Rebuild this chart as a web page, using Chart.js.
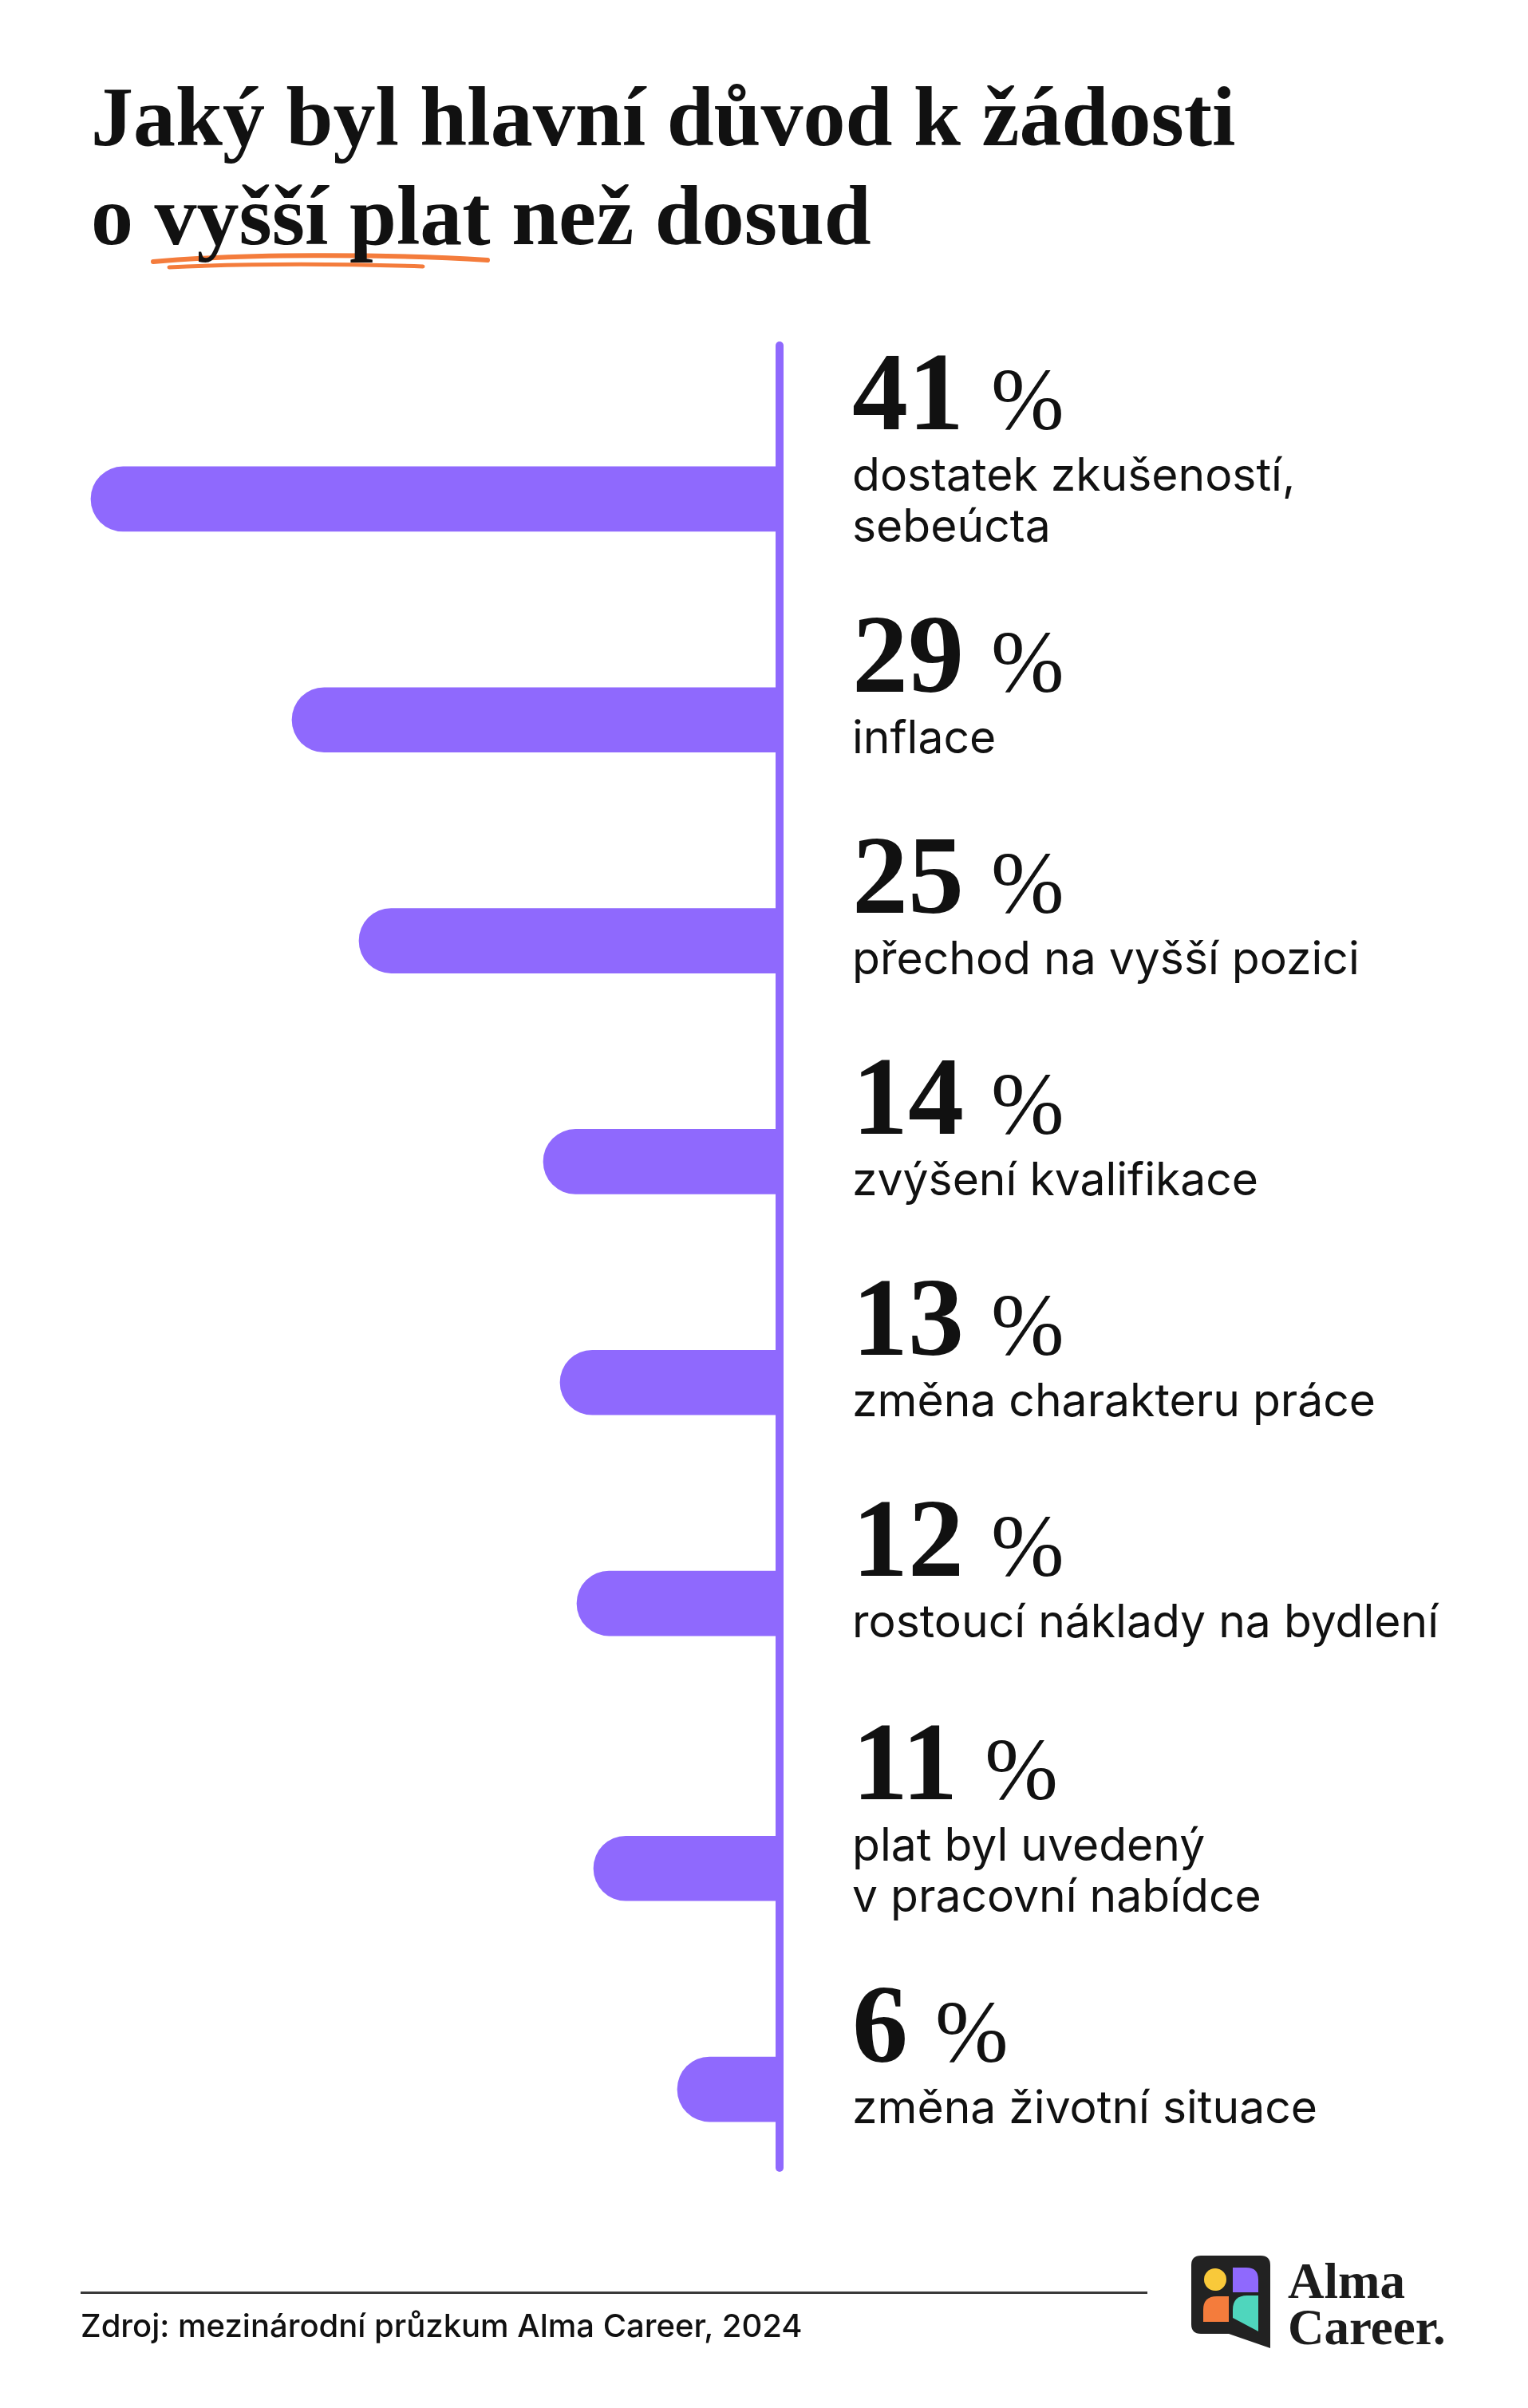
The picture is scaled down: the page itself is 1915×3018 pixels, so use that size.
<!DOCTYPE html>
<html lang="cs">
<head>
<meta charset="utf-8">
<title>Jaký byl hlavní důvod k žádosti o vyšší plat než dosud</title>
<script src="https://cdn.jsdelivr.net/npm/chart.js@4.4.1/dist/chart.umd.min.js"></script>
<style>
  html, body { margin: 0; padding: 0; background: #fff; }
  body { width: 1915px; height: 3018px; position: relative; overflow: hidden; }
  .title { position: absolute; left: 114px; font-family: "Liberation Serif", serif; font-weight: bold;
           font-size: 106px; line-height: 124px; color: #111; white-space: nowrap; z-index: 2; }
  #chartBox { position: absolute; left: 0; top: 0; width: 1915px; height: 3018px; }
  .rule { position: absolute; left: 101px; top: 2872px; width: 1337px; height: 3px; background: #3a3a3a; }
  .source { position: absolute; left: 101px; top: 2892px; font-family: Inter, sans-serif; font-weight: 500;
            font-size: 40px; line-height: 46px; color: #111; white-space: nowrap; }
  .brand { position: absolute; left: 1614px; top: 2830px; font-family: "Liberation Serif", serif; font-weight: bold;
           font-size: 63px; line-height: 58px; color: #1c1c1c; }
  svg { position: absolute; left: 0; top: 0; }
</style>
</head>
<body>
<svg width="1915" height="3018">
  <path d="M192,328 C300,318 480,318 611,326" stroke="#f47c3c" stroke-width="6" fill="none" stroke-linecap="round"/>
  <path d="M212,335 C320,330 440,331 530,334" stroke="#f47c3c" stroke-width="5" fill="none" stroke-linecap="round"/>
  <path d="M1505,2827 H1580 Q1592,2827 1592,2839 V2943 L1540,2925 H1505 Q1493,2925 1493,2913 V2839 Q1493,2827 1505,2827 Z" fill="#222"/>
  <circle cx="1523" cy="2857" r="14" fill="#f9c93a"/>
  <path d="M1545,2842 H1562 Q1577,2842 1577,2857 V2873 H1545 Z" fill="#8f69fd"/>
  <path d="M1508,2910 V2895 Q1508,2878 1525,2878 H1540 V2910 Z" fill="#f47c3c"/>
  <path d="M1545,2905 V2895 Q1545,2877 1563,2877 H1577 V2922 Z" fill="#4fd6bd"/>
</svg>
<div class="title" style="top:85px">Jaký byl hlavní důvod k žádosti</div>
<div class="title" style="top:209px">o vyšší plat než dosud</div>
<div id="chartBox"><canvas id="reasonChart"></canvas></div>
<div class="rule"></div>
<div class="source">Zdroj: mezinárodní průzkum Alma Career, 2024</div>
<div class="brand">Alma<br>Career.</div>

<script>
const reasons = [
    ["dostatek zkušeností,", "sebeúcta"],
    ["inflace"],
    ["přechod na vyšší pozici"],
    ["zvýšení kvalifikace"],
    ["změna charakteru práce"],
    ["rostoucí náklady na bydlení"],
    ["plat byl uvedený", "v pracovní nabídce"],
    ["změna životní situace"]
];
const shares = [41, 29, 25, 14, 13, 12, 11, 6];

const purple = '#8f69fd';

// řádky s dvouřádkovým popiskem potřebují trochu víc místa nad sebou
let slot = 0;
const rows = shares.map((v, i) => {
    if (i > 0) slot += 1 + 0.2 * (reasons[i].length - 1);
    return { x: v, y: slot };
});

// popisky vpravo od osy + svislá osa
const sideLabels = {
    id: 'sideLabels',
    afterDatasetsDraw(chart) {
        const ctx = chart.ctx;
        const area = chart.chartArea;
        const axisX = area.right + 2;

        ctx.save();
        ctx.strokeStyle = purple;
        ctx.lineWidth = 10;
        ctx.lineCap = 'round';
        ctx.beginPath();
        ctx.moveTo(axisX, area.top - 54);
        ctx.lineTo(axisX, area.bottom - 40);
        ctx.stroke();

        const x = area.right + 93;
        chart.getDatasetMeta(0).data.forEach((bar, i) => {
            const lines = reasons[i];
            const shift = (lines.length - 1) * 52;
            const numY = bar.y - 35 - shift;
            ctx.fillStyle = '#111';
            ctx.textBaseline = 'alphabetic';
            ctx.textAlign = 'left';
            ctx.font = 'bold 140px "Liberation Serif"';
            const num = String(shares[i]);
            ctx.fillText(num, x, numY);
            const w = ctx.measureText(num).width;
            ctx.font = '110px "Liberation Serif"';
            ctx.fillText('%', x + w + 34, numY);
            ctx.font = '57px Inter';
            lines.forEach((line, j) => {
                ctx.fillText(line, x, bar.y + 42 - shift + j * 64);
            });
        });
        ctx.restore();
    }
};

new Chart(document.getElementById('reasonChart').getContext('2d'), {
    type: 'bar',
    data: {
        datasets: [{
            data: rows,
            backgroundColor: purple,
            borderWidth: 0,
            borderRadius: 41,
            borderSkipped: 'start',
            barThickness: 81
        }]
    },
    options: {
        indexAxis: 'y',
        responsive: true,
        maintainAspectRatio: false,
        animation: false,
        layout: { padding: { left: 30, right: 940, top: 487, bottom: 261 } },
        scales: {
            x: { type: 'linear', reverse: true, min: 0, max: 45, display: false },
            y: { type: 'linear', reverse: true, min: -0.5, max: 7.7, offset: false, display: false }
        },
        plugins: {
            legend: { display: false },
            tooltip: { enabled: false }
        }
    },
    plugins: [sideLabels]
});
</script>
</body>
</html>
